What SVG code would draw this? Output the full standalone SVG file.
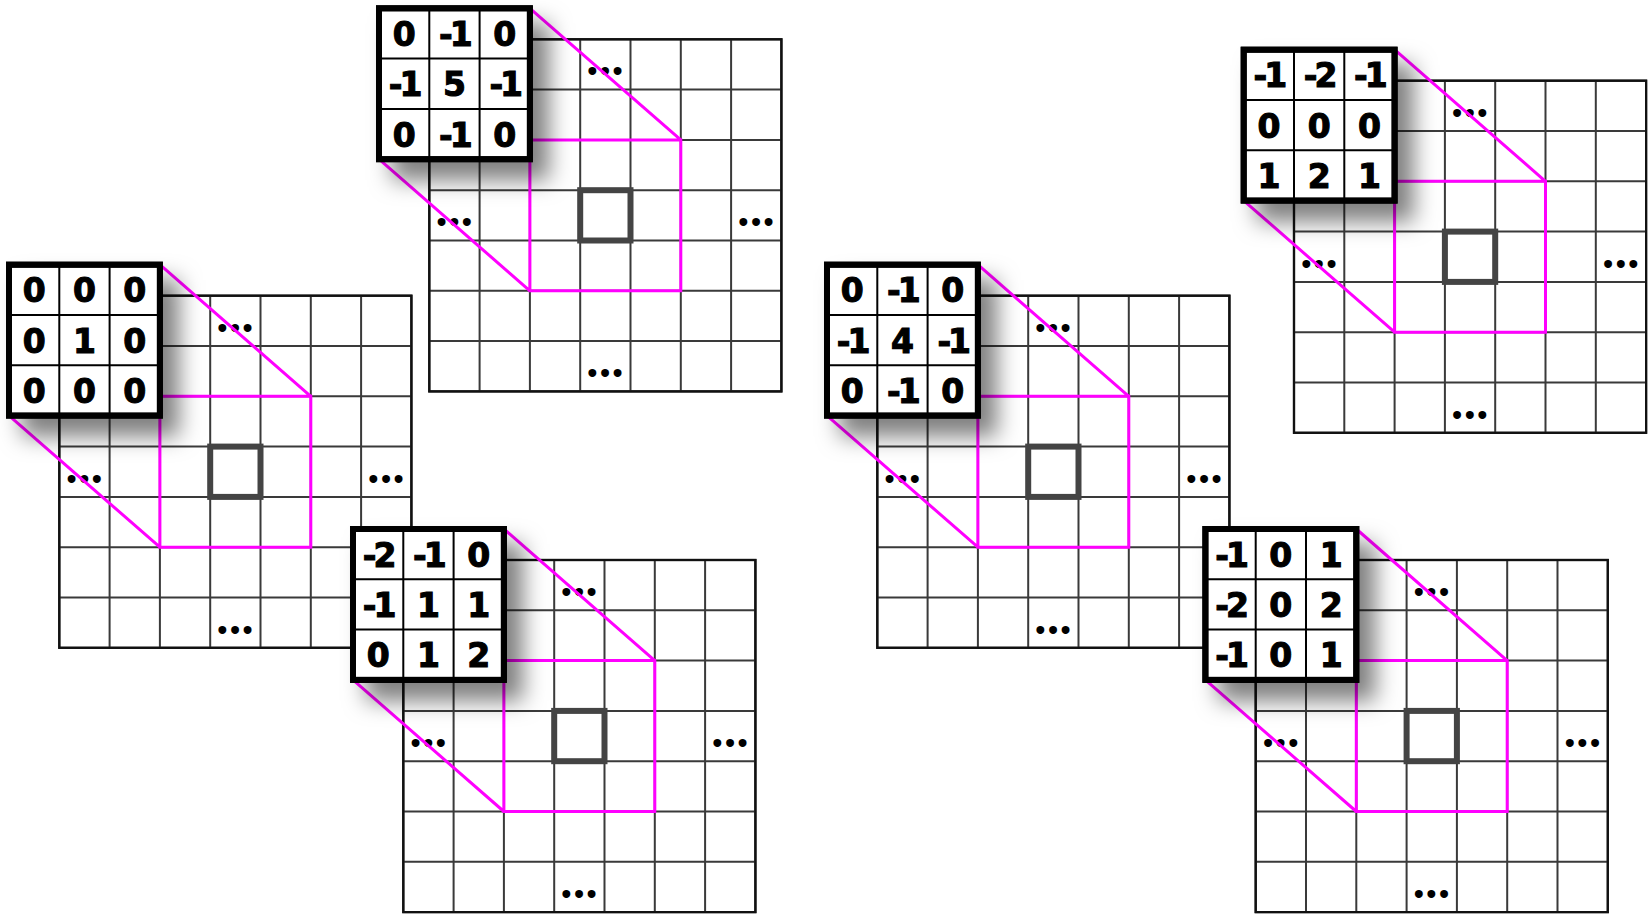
<svg xmlns="http://www.w3.org/2000/svg" xmlns:xlink="http://www.w3.org/1999/xlink" width="1650" height="914" viewBox="0 0 1650 914">
<style>
.grid-bg{fill:#fff;stroke:#111;stroke-width:2.2}
.grid-line{stroke:#3a3a3a;stroke-width:2;fill:none}
.mag{stroke:#ff00ff;stroke-width:3;fill:none;stroke-linejoin:miter}
.hl{fill:none;stroke:#444;stroke-width:6}
.kbox{fill:#fff;stroke:#000;stroke-width:6}
.kline{stroke:#000;stroke-width:2;fill:none}
.num{font-family:"DejaVu Sans","Liberation Sans",sans-serif;font-weight:bold;font-size:33px;fill:#000;stroke:#000;stroke-width:1.1;text-anchor:middle}
.neg{letter-spacing:-3px}
.dots{font-family:"Liberation Sans",Arial,sans-serif;font-size:29px;fill:#000;text-anchor:middle;letter-spacing:2.5px}
</style>
<defs>
<filter id="shadow" x="-40%" y="-40%" width="190%" height="190%">
<feDropShadow dx="16" dy="18" stdDeviation="11" flood-color="#000" flood-opacity="0.5"/>
</filter>
<g id="gridTpl">
<rect class="grid-bg" x="0" y="0" width="352.1" height="352.1"/>
<path class="grid-line" d="M50.3 0V352.1M100.6 0V352.1M150.9 0V352.1M201.2 0V352.1M251.5 0V352.1M301.8 0V352.1M0 50.3H352.1M0 100.6H352.1M0 150.9H352.1M0 201.2H352.1M0 251.5H352.1M0 301.8H352.1"/>
<rect x="0" y="0" width="352.1" height="352.1" fill="none" stroke="#111" stroke-width="2.2"/>
</g>
<g id="focusTpl">
<path class="mag" d="M100.6 100.6H251.5V251.5H100.6ZM100.6 -31L251.5 100.6M-50.3 119.9L100.6 251.5"/>
<rect class="hl" x="150.9" y="150.9" width="50.3" height="50.3"/>
</g>
<g id="kernelTpl">
<rect class="kbox" x="-50.3" y="-31" width="150.9" height="150.9" filter="url(#shadow)"/>
<path class="kline" d="M0 -31V119.9M50.3 -31V119.9M-50.3 19.3H100.6M-50.3 69.6H100.6"/>
<rect x="-50.3" y="-31" width="150.9" height="150.9" fill="none" stroke="#000" stroke-width="6"/>
</g>
</defs>

<g id="connectors"></g>

<!-- Node B: top middle (sharpen) -->
<g id="node-sharpen" transform="translate(429.3,39.3)">
<use xlink:href="#gridTpl" href="#gridTpl"/>
<text class="dots" x="177" y="42">•••</text>
<text class="dots" x="26.2" y="193">•••</text>
<text class="dots" x="328" y="193">•••</text>
<text class="dots" x="177" y="344">•••</text>
<use xlink:href="#focusTpl" href="#focusTpl"/>
<use xlink:href="#kernelTpl" href="#kernelTpl"/>
<text class="num" x="-25.15" y="6.65">0</text>
<text class="num neg" x="25.15" y="6.65">-1</text>
<text class="num" x="75.45" y="6.65">0</text>
<text class="num neg" x="-25.15" y="56.95">-1</text>
<text class="num" x="25.15" y="56.95">5</text>
<text class="num neg" x="75.45" y="56.95">-1</text>
<text class="num" x="-25.15" y="107.25">0</text>
<text class="num neg" x="25.15" y="107.25">-1</text>
<text class="num" x="75.45" y="107.25">0</text>
</g>

<!-- Node A: left (identity) -->
<g id="node-identity" transform="translate(59.3,295.7)">
<use xlink:href="#gridTpl" href="#gridTpl"/>
<text class="dots" x="177" y="42">•••</text>
<text class="dots" x="26.2" y="193">•••</text>
<text class="dots" x="328" y="193">•••</text>
<text class="dots" x="177" y="344">•••</text>
<use xlink:href="#focusTpl" href="#focusTpl"/>
<use xlink:href="#kernelTpl" href="#kernelTpl"/>
<text class="num" x="-25.15" y="6.65">0</text>
<text class="num" x="25.15" y="6.65">0</text>
<text class="num" x="75.45" y="6.65">0</text>
<text class="num" x="-25.15" y="56.95">0</text>
<text class="num" x="25.15" y="56.95">1</text>
<text class="num" x="75.45" y="56.95">0</text>
<text class="num" x="-25.15" y="107.25">0</text>
<text class="num" x="25.15" y="107.25">0</text>
<text class="num" x="75.45" y="107.25">0</text>
</g>

<!-- Node C: bottom middle (emboss) -->
<g id="node-emboss" transform="translate(403.3,560)">
<use xlink:href="#gridTpl" href="#gridTpl"/>
<text class="dots" x="177" y="42">•••</text>
<text class="dots" x="26.2" y="193">•••</text>
<text class="dots" x="328" y="193">•••</text>
<text class="dots" x="177" y="344">•••</text>
<use xlink:href="#focusTpl" href="#focusTpl"/>
<use xlink:href="#kernelTpl" href="#kernelTpl"/>
<text class="num neg" x="-25.15" y="6.65">-2</text>
<text class="num neg" x="25.15" y="6.65">-1</text>
<text class="num" x="75.45" y="6.65">0</text>
<text class="num neg" x="-25.15" y="56.95">-1</text>
<text class="num" x="25.15" y="56.95">1</text>
<text class="num" x="75.45" y="56.95">1</text>
<text class="num" x="-25.15" y="107.25">0</text>
<text class="num" x="25.15" y="107.25">1</text>
<text class="num" x="75.45" y="107.25">2</text>
</g>

<!-- Node E: top right (sobel horizontal) -->
<g id="node-sobel-y" transform="translate(1294,80.7)">
<use xlink:href="#gridTpl" href="#gridTpl"/>
<text class="dots" x="177" y="42">•••</text>
<text class="dots" x="26.2" y="193">•••</text>
<text class="dots" x="328" y="193">•••</text>
<text class="dots" x="177" y="344">•••</text>
<use xlink:href="#focusTpl" href="#focusTpl"/>
<use xlink:href="#kernelTpl" href="#kernelTpl"/>
<text class="num neg" x="-25.15" y="6.65">-1</text>
<text class="num neg" x="25.15" y="6.65">-2</text>
<text class="num neg" x="75.45" y="6.65">-1</text>
<text class="num" x="-25.15" y="56.95">0</text>
<text class="num" x="25.15" y="56.95">0</text>
<text class="num" x="75.45" y="56.95">0</text>
<text class="num" x="-25.15" y="107.25">1</text>
<text class="num" x="25.15" y="107.25">2</text>
<text class="num" x="75.45" y="107.25">1</text>
</g>

<!-- Node D: middle right (laplacian) -->
<g id="node-laplacian" transform="translate(877.3,295.7)">
<use xlink:href="#gridTpl" href="#gridTpl"/>
<text class="dots" x="177" y="42">•••</text>
<text class="dots" x="26.2" y="193">•••</text>
<text class="dots" x="328" y="193">•••</text>
<text class="dots" x="177" y="344">•••</text>
<use xlink:href="#focusTpl" href="#focusTpl"/>
<use xlink:href="#kernelTpl" href="#kernelTpl"/>
<text class="num" x="-25.15" y="6.65">0</text>
<text class="num neg" x="25.15" y="6.65">-1</text>
<text class="num" x="75.45" y="6.65">0</text>
<text class="num neg" x="-25.15" y="56.95">-1</text>
<text class="num" x="25.15" y="56.95">4</text>
<text class="num neg" x="75.45" y="56.95">-1</text>
<text class="num" x="-25.15" y="107.25">0</text>
<text class="num neg" x="25.15" y="107.25">-1</text>
<text class="num" x="75.45" y="107.25">0</text>
</g>

<!-- Node F: bottom right (sobel vertical) -->
<g id="node-sobel-x" transform="translate(1255.7,560)">
<use xlink:href="#gridTpl" href="#gridTpl"/>
<text class="dots" x="177" y="42">•••</text>
<text class="dots" x="26.2" y="193">•••</text>
<text class="dots" x="328" y="193">•••</text>
<text class="dots" x="177" y="344">•••</text>
<use xlink:href="#focusTpl" href="#focusTpl"/>
<use xlink:href="#kernelTpl" href="#kernelTpl"/>
<text class="num neg" x="-25.15" y="6.65">-1</text>
<text class="num" x="25.15" y="6.65">0</text>
<text class="num" x="75.45" y="6.65">1</text>
<text class="num neg" x="-25.15" y="56.95">-2</text>
<text class="num" x="25.15" y="56.95">0</text>
<text class="num" x="75.45" y="56.95">2</text>
<text class="num neg" x="-25.15" y="107.25">-1</text>
<text class="num" x="25.15" y="107.25">0</text>
<text class="num" x="75.45" y="107.25">1</text>
</g>
</svg>
